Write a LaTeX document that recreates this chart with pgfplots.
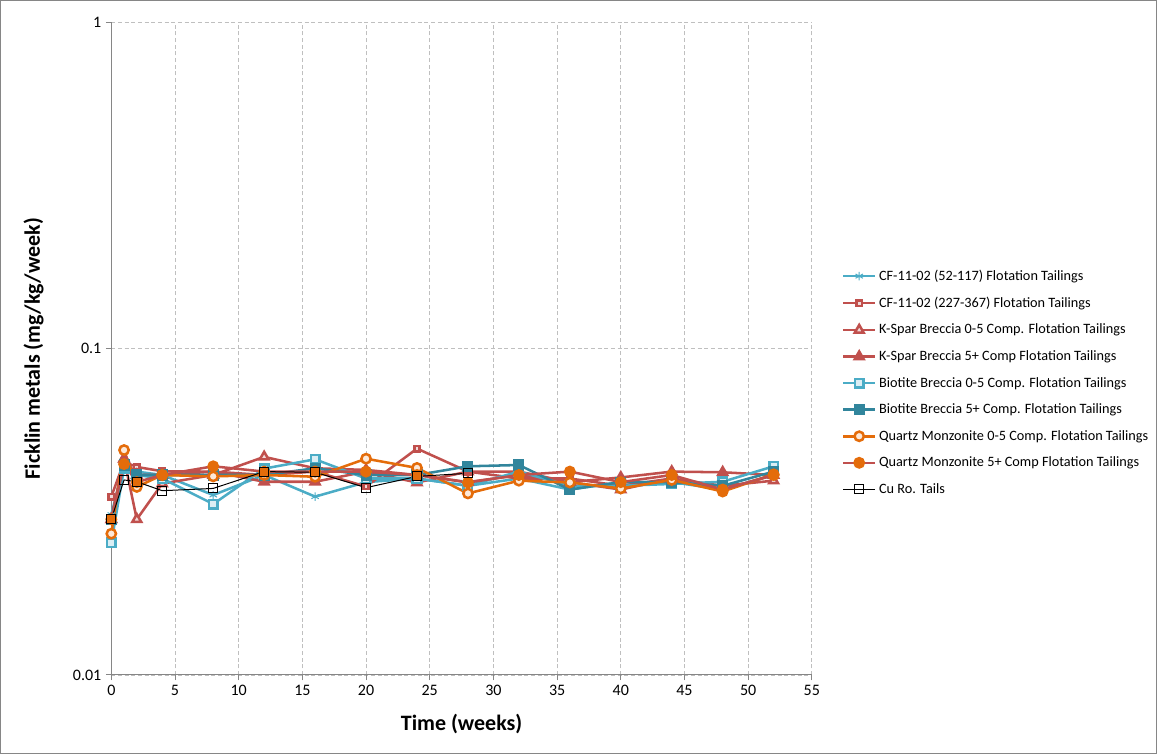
\documentclass[border=0pt]{standalone}
\usepackage{pgfplots}
\pgfplotsset{compat=1.18}
\usepackage{fontspec}
\setmainfont{Carlito}
\definecolor{lblue}{HTML}{4BACC6}
\definecolor{lbluef}{HTML}{DBEEF4}
\definecolor{cred}{HTML}{C0504D}
\definecolor{credf}{HTML}{F2DCDB}
\definecolor{teal2}{HTML}{31859C}
\definecolor{corange}{HTML}{E46C0A}
\definecolor{corangef}{HTML}{FDE9D9}
\definecolor{axgray}{HTML}{868686}
\definecolor{gridgray}{HTML}{BFBFBF}
\begin{document}
\begin{tikzpicture}
\draw[axgray, line width=0.6pt] (-83.25pt,-59.25pt) rectangle (784.5pt,506.25pt);
\begin{axis}[
  at={(0,0)}, anchor=south west,
  scale only axis, width=525.75pt, height=489.75pt,
  xmin=0, xmax=55, ymin=0.01, ymax=1, ymode=log,
  xtick={0,5,...,55}, ytick={0.01,0.1,1}, yticklabels={0.01,0.1,1},
  yminorticks=false,
  axis x line*=bottom, axis y line*=left,
  axis line style={axgray, line width=0.8pt},
  tick align=outside, major tick length=4pt,
  tick style={axgray, line width=0.75pt},
  xtick pos=bottom, ytick pos=left,
  grid=major,
  major grid style={gridgray, dash pattern=on 3pt off 2pt, line width=0.6pt},
  /pgf/number format/assume math mode=true,
  tick label style={font=\fontsize{12}{14}\selectfont, black},
  xlabel={\textbf{Time (weeks)}},
  ylabel={\textbf{Ficklin metals (mg/kg/week)}},
  xlabel style={font=\fontsize{16.5}{19}\selectfont, at={(axis description cs:0.5,-0.075)}, anchor=center},
  ylabel style={font=\fontsize{16.5}{19}\selectfont, at={(axis description cs:-0.111,0.5)}, anchor=center, rotate=0},
  legend style={at={(1.037,0.448)}, anchor=west, draw=none, fill=none,
    font=\fontsize{10.7}{12.5}\selectfont, row sep=7.0pt},
  legend cell align=left,
  legend image code/.code={\draw[mark repeat=2,mark phase=2] plot coordinates {(0cm,0cm) (0.42cm,0cm) (0.84cm,0cm)};},
  clip=false,
  every axis plot/.append style={line width=1.9pt, mark options={line width=0.75pt, solid}},
]
% CF-11-02 (52-117)
\addplot[color=lblue, mark=asterisk, mark size=3.2pt] coordinates {
(0,0.031)(1,0.044)(2,0.042)(4,0.041)(8,0.0356)(12,0.041)(16,0.0352)(20,0.039)(24,0.040)(28,0.038)(32,0.040)(36,0.037)(40,0.039)(44,0.039)(48,0.037)(52,0.041)};
\addlegendentry{CF-11-02 (52-117) Flotation Tailings}
% CF-11-02 (227-367)
\addplot[color=cred, mark=square*, mark size=2pt, mark options={fill=credf, draw=cred}] coordinates {
(0,0.0352)(1,0.045)(2,0.0434)(4,0.0421)(8,0.042)(12,0.041)(16,0.042)(20,0.0378)(24,0.0494)(28,0.042)(32,0.040)(36,0.040)(40,0.038)(44,0.040)(48,0.037)(52,0.041)};
\addlegendentry{CF-11-02 (227-367) Flotation Tailings}
% K-Spar 0-5
\addplot[color=cred, mark=triangle*, mark size=3.8pt, mark options={fill=credf, draw=cred}] coordinates {
(0,0.030)(1,0.046)(2,0.030)(4,0.0386)(8,0.041)(12,0.0466)(16,0.043)(20,0.0425)(24,0.041)(28,0.039)(32,0.041)(36,0.039)(40,0.037)(44,0.040)(48,0.038)(52,0.0394)};
\addlegendentry{K-Spar Breccia 0-5 Comp. Flotation Tailings}
% K-Spar 5+
\addplot[color=cred, mark=triangle*, mark size=3.8pt, mark options={fill=cred, draw=cred}] coordinates {
(0,0.030)(1,0.046)(2,0.041)(4,0.041)(8,0.042)(12,0.0391)(16,0.0391)(20,0.042)(24,0.0389)(28,0.042)(32,0.042)(36,0.039)(40,0.0403)(44,0.042)(48,0.0418)(52,0.041)};
\addlegendentry{K-Spar Breccia 5+ Comp Flotation Tailings}
% Biotite 0-5
\addplot[color=lblue, mark=square*, mark size=3.2pt, mark options={fill=lbluef, draw=lblue}] coordinates {
(0,0.0254)(1,0.043)(2,0.041)(4,0.040)(8,0.0334)(12,0.0429)(16,0.0458)(20,0.040)(24,0.040)(28,0.038)(32,0.042)(36,0.038)(40,0.038)(44,0.0385)(48,0.0391)(52,0.0436)};
\addlegendentry{Biotite Breccia 0-5 Comp. Flotation Tailings}
% Biotite 5+
\addplot[color=teal2, mark=square*, mark size=3.2pt, mark options={fill=teal2, draw=teal2}] coordinates {
(0,0.030)(1,0.044)(2,0.041)(4,0.041)(8,0.041)(12,0.041)(16,0.043)(20,0.041)(24,0.041)(28,0.0436)(32,0.044)(36,0.037)(40,0.039)(44,0.039)(48,0.038)(52,0.042)};
\addlegendentry{Biotite Breccia 5+ Comp. Flotation Tailings}
% Quartz 0-5
\addplot[color=corange, mark=*, mark size=3.5pt, mark options={fill=corangef, draw=corange}] coordinates {
(0,0.0271)(1,0.0489)(2,0.0377)(4,0.041)(8,0.0406)(12,0.041)(16,0.0405)(20,0.046)(24,0.0431)(28,0.036)(32,0.0394)(36,0.0389)(40,0.0373)(44,0.0396)(48,0.0365)(52,0.0412)};
\addlegendentry{Quartz Monzonite 0-5 Comp. Flotation Tailings}
% Quartz 5+
\addplot[color=cred, mark=*, mark size=3.5pt, mark options={fill=corange, draw=corange}] coordinates {
(0,0.030)(1,0.0443)(2,0.039)(4,0.041)(8,0.0436)(12,0.042)(16,0.042)(20,0.042)(24,0.041)(28,0.0389)(32,0.041)(36,0.042)(40,0.039)(44,0.041)(48,0.037)(52,0.041)};
\addlegendentry{Quartz Monzonite 5+ Comp Flotation Tailings}
% Cu Ro. Tails
\addplot[color=black, line width=0.75pt, mark=square, mark size=3.4pt, mark options={draw=black, fill=none}] coordinates {
(0,0.030)(1,0.0396)(2,0.0391)(4,0.0367)(8,0.0373)(12,0.042)(16,0.0418)(20,0.0375)(24,0.0406)(28,0.0415)};
\addlegendentry{Cu Ro. Tails}
\end{axis}
\end{tikzpicture}
\end{document}
